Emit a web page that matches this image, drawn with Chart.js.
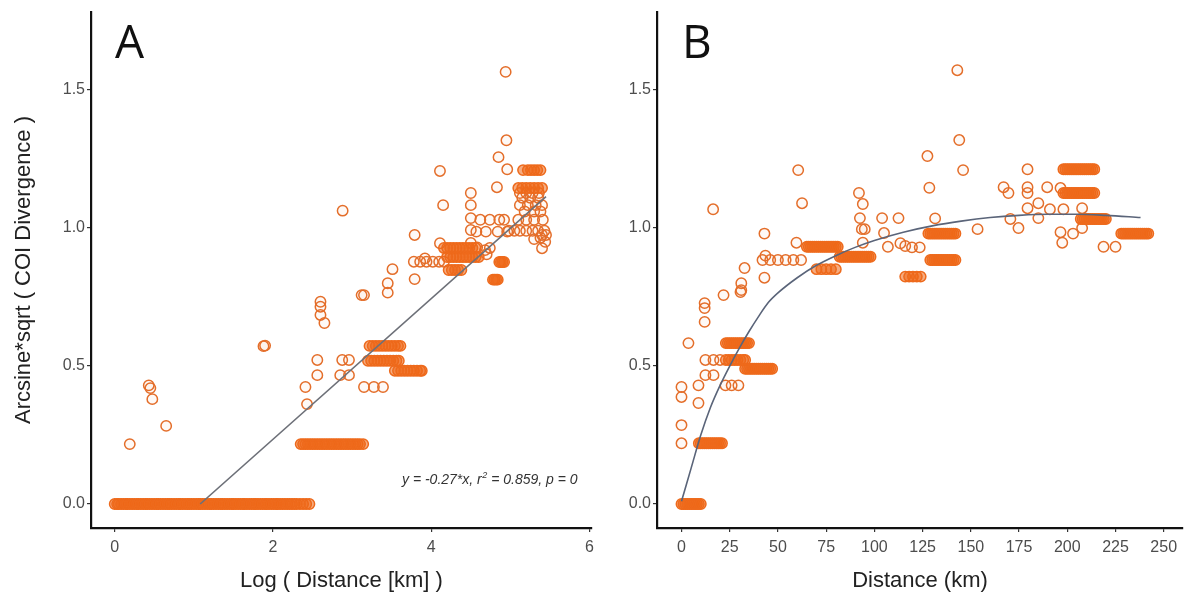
<!DOCTYPE html>
<html>
<head>
<meta charset="utf-8">
<script src="https://cdn.jsdelivr.net/npm/chart.js@4.4.1/dist/chart.umd.min.js"></script>
<style>
  html, body { margin: 0; padding: 0; background: #fff; }
  #wrap { position: relative; width: 1193px; height: 601px; overflow: hidden; background: #fff; }
  #cA { position: absolute; left: 0; top: 0; }
  #cB { position: absolute; left: 600px; top: 0; }
</style>
</head>
<body>
<div id="wrap">
  <canvas id="cA" width="600" height="601"></canvas>
  <canvas id="cB" width="593" height="601"></canvas>
</div>
<script>
// ---------- shared axis ticks ----------
const yTicks  = [0.0, 0.5, 1.0, 1.5];
const aTicksX = [0, 2, 4, 6];
const bTicksX = [0, 25, 50, 75, 100, 125, 150, 175, 200, 225, 250];

// ---------- panel A: log(distance) vs divergence ----------
// dense horizontal runs (x positions), one array per divergence level
const aRow000 = [0.00,0.03,0.05,0.08,0.11,0.14,0.16,0.19,0.22,0.25,0.28,0.30,0.33,0.36,0.39,0.41,0.44,0.47,0.50,0.53,
  0.55,0.58,0.61,0.64,0.67,0.69,0.72,0.75,0.78,0.81,0.83,0.86,0.89,0.92,0.94,0.97,1.00,1.03,1.06,1.08,1.11,1.14,1.17,
  1.20,1.22,1.25,1.28,1.31,1.34,1.36,1.39,1.42,1.45,1.48,1.50,1.53,1.56,1.59,1.62,1.64,1.67,1.70,1.73,1.76,1.78,1.81,
  1.84,1.87,1.90,1.92,1.95,1.98,2.01,2.04,2.06,2.09,2.12,2.15,2.18,2.21,2.24,2.27,2.30,2.34,2.38,2.42,2.46];
const aRow022 = [2.35,2.38,2.41,2.44,2.47,2.50,2.53,2.56,2.59,2.62,2.65,2.68,2.71,2.74,2.77,2.80,2.83,2.86,2.89,2.92,
  2.95,2.98,3.01,3.04,3.07,3.10,3.14];
const aRow057 = [3.22,3.26,3.30,3.34,3.38,3.42,3.46,3.50,3.54,3.58,3.61];
const aRow052 = [3.20,3.24,3.28,3.32,3.36,3.40,3.44,3.48,3.52,3.56,3.59];
const aRow048 = [3.54,3.58,3.62,3.66,3.70,3.74,3.78,3.82,3.86,3.88];
const aRow093 = [4.16,4.20,4.24,4.28,4.32,4.36,4.40,4.44,4.48,4.52,4.56];
const aRow090 = [4.20,4.24,4.28,4.32,4.36,4.40,4.44,4.48,4.52,4.56,4.60];
const aRow085 = [4.22,4.26,4.30,4.34,4.38];
const aRow121 = [5.16,5.22,5.26,5.30,5.34,5.38];
const aRow115 = [5.10,5.15,5.20,5.25,5.30,5.35,5.40];
const aRow081 = [4.78,4.80,4.82,4.84];
const aRow088 = [4.86,4.88,4.90,4.92];
// scattered individual pairs [log distance, divergence]
const aPoints = [
  [0.19,0.217],[0.43,0.430],[0.45,0.420],[0.475,0.380],[0.65,0.283],[1.88,0.572],[1.90,0.574],
  [2.41,0.424],[2.43,0.362],[2.56,0.522],[2.56,0.467],[2.875,0.522],[2.96,0.522],[2.85,0.467],[2.96,0.467],
  [3.15,0.424],[3.275,0.424],[3.39,0.424],
  [2.60,0.733],[2.60,0.715],[2.60,0.685],[2.65,0.656],
  [2.88,1.063],[3.12,0.757],[3.15,0.757],[3.45,0.800],[3.45,0.766],[3.51,0.851],[3.79,0.815],[3.79,0.975],[3.92,0.890],
  [3.78,0.878],[3.86,0.878],[3.94,0.878],[4.02,0.878],[4.10,0.878],[4.16,0.878],
  [4.11,0.945],[4.11,1.207],[4.15,1.083],
  [4.50,1.127],[4.50,1.083],[4.50,1.036],[4.50,0.993],[4.50,0.946],
  [4.62,1.030],[4.74,1.030],[4.86,1.030],[4.92,1.030],
  [4.57,0.987],[4.69,0.987],[4.84,0.987],[4.96,0.987],
  [4.74,0.928],[4.58,0.930],[4.68,0.920],[4.70,0.905],
  [4.85,1.257],[4.83,1.148],[4.94,1.566],[4.95,1.318],[4.96,1.213],
  [5.12,1.127],[5.20,1.127],[5.28,1.127],[5.36,1.127],[5.15,1.110],[5.25,1.110],[5.35,1.110],
  [5.12,1.083],[5.22,1.083],[5.32,1.083],[5.40,1.083],[5.18,1.060],[5.30,1.060],[5.38,1.060],
  [5.10,1.030],[5.20,1.030],[5.30,1.030],[5.41,1.030],
  [4.98,0.990],[5.05,0.990],[5.12,0.990],[5.20,0.990],[5.28,0.990],[5.35,0.990],[5.43,0.990],
  [5.30,0.960],[5.38,0.965],[5.44,0.950],[5.40,0.927],[5.40,0.975],[5.45,0.975]
];
// fitted linear trend
const aFitX = [1.08, 5.45];
const aFitY = [0.000, 1.114];

// ---------- panel B: distance (km) vs divergence ----------
const bRow000 = [0,1,2,3,4,5,6,7,8,9,10];
const bRow022 = [9,10,11,12,13,14,15,16,17,18,19,20,21];
const bRow058 = [23,24,25,26,27,28,29,30,31,32,33,34,35];
const bRow052 = [23,24.5,26,27.5,29,30.5,32,33];
const bRow049 = [33,34,35,36,37,38,39,40,41,42,43,44,45,46,47];
const bRow093 = [65,66,67,68,69,70,71,72,73,74,75,76,77,78,79,80,81];
const bRow090 = [82,83,84,85,86,87,88,89,90,91,92,93,94,95,96,97,98];
const bRow085 = [70,72.5,75,77.5,80];
const bRow082 = [116,118,120,122,124];
const bRow098a = [128,129,130,131,132,133,134,135,136,137,138,139,140,141,142];
const bRow088 = [129,130,131,132,133,134,135,136,137,138,139,140,141,142];
const bRow121 = [198,199,200,201,202,203,204,205,206,207,208,209,210,211,212,213,214];
const bRow113 = [198,199,200,201,202,203,204,205,206,207,208,209,210,211,212,213,214];
const bRow103 = [207,208,209,210,211,212,213,214,215,216,217,218,219,220];
const bRow098b = [228,229,230,231,232,233,234,235,236,237,238,239,240,241,242];
const bPoints = [
  [0,0.220],[0,0.286],[0,0.388],[0,0.424],[8.8,0.366],[8.8,0.430],[12.4,0.467],[16.6,0.467],
  [12.4,0.522],[16.6,0.522],[20,0.522],
  [22.8,0.430],[26,0.430],[29.5,0.430],[3.6,0.583],[12,0.660],[12,0.710],[12,0.728],[21.8,0.757],[30.6,0.768],
  [16.4,1.068],[43,0.980],[60.5,1.210],[62.5,1.090],[59.6,0.947],
  [42,0.884],[46,0.884],[50,0.884],[54,0.884],[58,0.884],[62,0.884],
  [43.5,0.900],[32.7,0.855],[43,0.820],[31,0.800],[31,0.775],
  [92,1.127],[94,1.087],[92.5,1.036],[93.5,0.996],[95,0.996],[94,0.947],
  [104,1.036],[105,0.982],[107,0.932],[112.5,1.036],[113.5,0.945],[116,0.935],[119.5,0.930],[123.5,0.930],
  [127.5,1.261],[128.5,1.146],[131.5,1.035],[143,1.572],[144,1.319],[146,1.210],[153.5,0.996],
  [167,1.148],[169.5,1.127],[170.5,1.033],[174.7,1.000],[179.4,1.213],[179.4,1.148],[179.4,1.127],[179.4,1.072],
  [185,1.090],[185,1.036],[189.6,1.148],[191,1.068],[196.5,1.145],[198,1.068],[196.5,0.985],[197.4,0.947],
  [203,0.980],[207.7,1.072],[207.7,1.000],[218.8,0.932],[225,0.932]
];
// fitted saturating trend
const bFitX = [0, 5, 10, 15, 20, 25, 30, 35, 40, 45, 50, 60, 70, 80, 90, 100, 115, 130, 145, 160, 175, 190, 205, 220, 238];
const bFitY = [0.01,0.13,0.25,0.35,0.43,0.50,0.565,0.625,0.68,0.73,0.765,0.82,0.865,0.90,0.93,0.955,0.985,1.008,1.025,1.038,1.046,1.05,1.05,1.046,1.038];

// ---------- helpers ----------
function rowPts(xs, y) { return xs.map(x => ({ x: x, y: y })); }
function pairPts(list) { return list.map(p => ({ x: p[0], y: p[1] })); }
function linePts(xs, ys) { return xs.map((x, i) => ({ x: x, y: ys[i] })); }

const FONT = "'Liberation Sans', Arial, sans-serif";
const RING = 'rgb(228,110,42)';
const BAND = 'rgb(238,106,28)';

// open rings; overplotted runs get a tinted fill so they read as solid bands
function scatterSet(points, stroke, fill) {
  return {
    data: points, showLine: false, order: 2,
    pointStyle: 'circle', pointRadius: 5.2, pointBorderWidth: 1.5,
    pointBorderColor: stroke, pointBackgroundColor: fill
  };
}
function fitSet(points, color, tension) {
  return {
    data: points, showLine: true, order: 0, pointRadius: 0, borderColor: color,
    borderWidth: 1.6, fill: false, tension: tension, cubicInterpolationMode: tension ? 'monotone' : 'default'
  };
}

const panelText = {
  id: 'panelText',
  afterDraw(chart, args, o) {
    const ctx = chart.ctx;
    ctx.save();
    ctx.fillStyle = '#111';
    ctx.font = "400 46px 'Open Sans', 'Liberation Sans', sans-serif";
    ctx.textBaseline = 'alphabetic';
    ctx.textAlign = 'left';
    ctx.fillText(o.letter, o.lx, o.ly);
    if (o.eq) {
      const x = o.eq.x, y = o.eq.y;
      const big = "italic 14px 'Liberation Sans', sans-serif";
      const small = "italic 9px 'Liberation Sans', sans-serif";
      ctx.fillStyle = '#333';
      ctx.textBaseline = 'middle';
      const p1 = 'y = -0.27*x, r', p2 = ' = 0.859, p = 0';
      ctx.font = big;
      ctx.fillText(p1, x, y);
      let w = ctx.measureText(p1).width;
      ctx.font = small;
      ctx.fillText('2', x + w + 0.5, y - 4.5);
      w += ctx.measureText('2').width + 0.5;
      ctx.font = big;
      ctx.fillText(p2, x + w, y);
    }
    ctx.restore();
  }
};

function makePanel(canvas, cfg) {
  return new Chart(canvas, {
    type: 'scatter',
    data: { datasets: cfg.datasets },
    plugins: [panelText],
    options: {
      responsive: false, animation: false, events: [],
      layout: { padding: cfg.padding },
      plugins: { legend: { display: false }, tooltip: { enabled: false }, panelText: cfg.text },
      scales: {
        x: {
          type: 'linear', min: cfg.xMin, max: cfg.xMax,
          afterBuildTicks: s => { s.ticks = cfg.xTicks.map(v => ({ value: v })); },
          afterFit: s => { s.height = 73; },
          ticks: { color: '#4d4d4d', font: { family: FONT, size: 16 }, padding: 6, callback: v => String(v), maxRotation: 0, autoSkip: false },
          grid: { display: true, drawOnChartArea: false, drawTicks: true, tickLength: 4, color: '#333', lineWidth: 1.2 },
          border: { display: true, color: '#111', width: 2.2 },
          title: { display: true, text: cfg.xTitle, color: '#222', font: { family: FONT, size: 22 }, padding: { top: 0, bottom: 7 } }
        },
        y: {
          type: 'linear', min: -0.087, max: 1.783,
          afterBuildTicks: s => { s.ticks = yTicks.map(v => ({ value: v })); },
          afterFit: s => { s.width = cfg.yWidth; },
          ticks: { color: '#4d4d4d', font: { family: FONT, size: 16 }, padding: 2, callback: v => v.toFixed(1), autoSkip: false },
          grid: { display: true, drawOnChartArea: false, drawTicks: true, tickLength: 4, color: '#333', lineWidth: 1.2 },
          border: { display: true, color: '#111', width: 2.2 },
          title: { display: !!cfg.yTitle, text: cfg.yTitle || '', color: '#222', font: { family: FONT, size: 22 }, padding: { top: 11, bottom: 0 } }
        }
      }
    }
  });
}

const RING_FILL = 'rgba(240,110,30,0.04)';
const BAND_FILL = 'rgba(238,104,24,0.55)';

// panel A
const aBands = [].concat(
  rowPts(aRow000, 0.0), rowPts(aRow022, 0.217), rowPts(aRow057, 0.573), rowPts(aRow052, 0.519),
  rowPts(aRow048, 0.483), rowPts(aRow093, 0.928), rowPts(aRow090, 0.895), rowPts(aRow085, 0.848),
  rowPts(aRow121, 1.210), rowPts(aRow115, 1.145), rowPts(aRow081, 0.813), rowPts(aRow088, 0.877)
);
makePanel(document.getElementById('cA'), {
  datasets: [scatterSet(aBands, BAND, BAND_FILL), scatterSet(pairPts(aPoints), RING, RING_FILL), fitSet(linePts(aFitX, aFitY), '#6d7078', 0)],
  padding: { top: 12, right: 3, left: 0, bottom: 0 },
  xMin: -0.30, xMax: 6.03, xTicks: aTicksX, yWidth: 91,
  xTitle: 'Log ( Distance [km] )', yTitle: 'Arcsine*sqrt ( COI Divergence )',
  text: { letter: 'A', lx: 115, ly: 58, eq: { x: 402, y: 480 } }
});

// panel B
const bBands = [].concat(
  rowPts(bRow000, 0.0), rowPts(bRow022, 0.220), rowPts(bRow058, 0.583), rowPts(bRow052, 0.522),
  rowPts(bRow049, 0.490), rowPts(bRow093, 0.932), rowPts(bRow090, 0.896), rowPts(bRow085, 0.851),
  rowPts(bRow082, 0.824), rowPts(bRow098a, 0.980), rowPts(bRow088, 0.884), rowPts(bRow121, 1.213),
  rowPts(bRow113, 1.127), rowPts(bRow103, 1.033), rowPts(bRow098b, 0.980)
);
makePanel(document.getElementById('cB'), {
  datasets: [scatterSet(bBands, BAND, BAND_FILL), scatterSet(pairPts(bPoints), RING, RING_FILL), fitSet(linePts(bFitX, bFitY), '#5a6479', 0.4)],
  padding: { top: 12, right: 10, left: 0, bottom: 0 },
  xMin: -12.7, xMax: 260, xTicks: bTicksX, yWidth: 57,
  xTitle: 'Distance (km)', yTitle: null,
  text: { letter: 'B', lx: 82, ly: 58, eq: null }
});
</script>
</body>
</html>
